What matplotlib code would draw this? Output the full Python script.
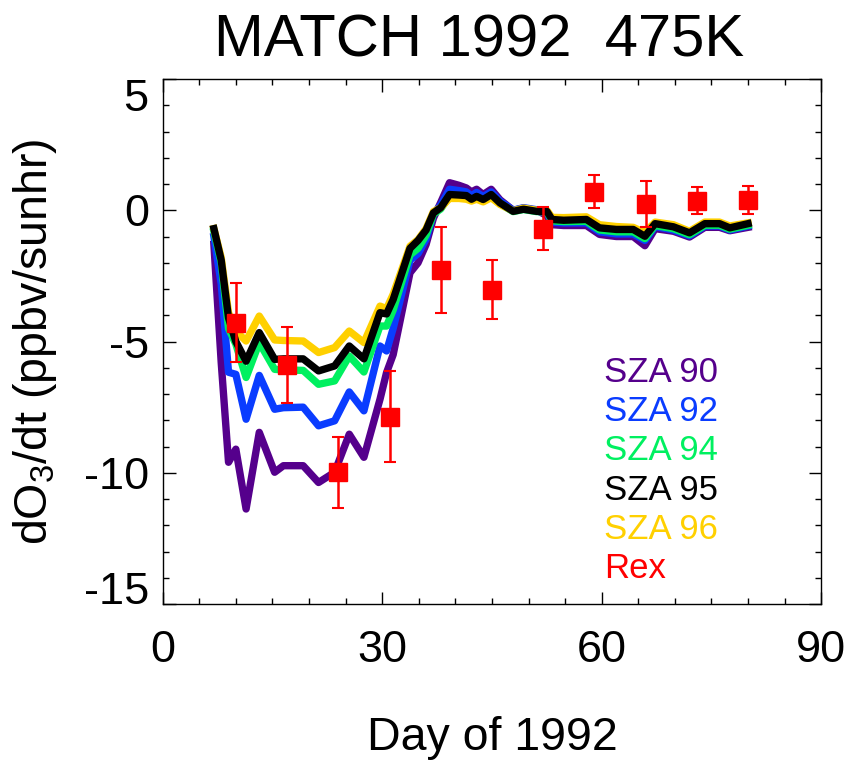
import numpy as np
import matplotlib
matplotlib.use('Agg')
import matplotlib.pyplot as plt

plt.rcParams['font.family'] = ['Liberation Sans', 'DejaVu Sans']
plt.rcParams['mathtext.default'] = 'regular'
plt.rcParams['axes.unicode_minus'] = False

# model days (shared by all SZA curves)
days = [7, 8, 9, 10, 11.4, 13.2, 15.3, 16.5, 19.2, 21.3, 23.5, 25.5, 27.5, 29.7,
        30.6, 31.5, 33.8, 34.9, 36, 37, 38, 39.2, 40.5, 41.5, 42.2, 42.9, 43.8,
        44.9, 46.1, 47.9, 49.3, 51.1, 52.5, 53.2, 54.8, 57.9, 59.7, 62, 64.3,
        65.9, 67.3, 69.8, 72.0, 74.1, 76.1, 77.5, 80]

sza90 = [-1.3, -5.8, -9.6, -9.1, -11.38, -8.46, -9.98, -9.73, -9.73, -10.37,
         -9.98, -8.53, -9.41, -7.2, -6.18, -5.5, -2.38, -2.0, -1.3, -0.3, 0.3,
         1.05, 0.95, 0.85, 0.7, 0.8, 0.6, 0.8, 0.4, 0.0, 0.08, 0.0, -0.2, -0.55,
         -0.58, -0.58, -0.92, -1.0, -1.0, -1.35, -0.7, -0.8, -1.02, -0.65, -0.65,
         -0.78, -0.65]
sza92 = [-1.0, -2.8, -6.17, -6.25, -7.96, -6.29, -7.58, -7.52, -7.5, -8.21,
         -8.02, -6.92, -7.64, -5.17, -5.36, -4.5, -1.9, -1.65, -1.1, -0.15, 0.2,
         0.8, 0.75, 0.7, 0.55, 0.68, 0.52, 0.7, 0.35, 0.0, 0.1, 0.02, -0.08,
         -0.45, -0.48, -0.48, -0.82, -0.9, -0.9, -1.15, -0.62, -0.75, -0.97,
         -0.6, -0.6, -0.75, -0.6]
sza94 = [-0.8, -2.0, -4.5, -5.1, -6.37, -5.04, -6.06, -6.08, -6.1, -6.63,
         -6.5, -5.55, -6.16, -4.41, -4.41, -3.8, -1.7, -1.45, -0.95, -0.15, 0.05,
         0.55, 0.52, 0.5, 0.38, 0.48, 0.36, 0.55, 0.25, -0.05, 0.03, -0.05, -0.06,
         -0.4, -0.43, -0.42, -0.75, -0.82, -0.82, -1.08, -0.58, -0.7, -0.93,
         -0.57, -0.57, -0.72, -0.57]
sza95 = [-0.7, -1.9, -4.1, -5.0, -5.75, -4.66, -5.68, -5.66, -5.66, -6.12,
         -5.93, -5.17, -5.66, -3.9, -3.95, -3.4, -1.45, -1.15, -0.75, -0.1, 0.1,
         0.6, 0.58, 0.56, 0.42, 0.53, 0.41, 0.6, 0.28, -0.04, 0.04, -0.04, -0.04,
         -0.35, -0.38, -0.35, -0.67, -0.73, -0.73, -0.99, -0.51, -0.63, -0.86,
         -0.51, -0.51, -0.67, -0.51]
sza96 = [-0.7, -1.8, -3.9, -4.6, -4.98, -4.03, -4.94, -4.96, -4.98, -5.42,
         -5.23, -4.6, -5.04, -3.65, -3.75, -3.2, -1.37, -1.12, -0.7, -0.05, 0.1,
         0.45, 0.45, 0.42, 0.35, 0.42, 0.32, 0.48, 0.22, -0.02, 0.08, 0.0, 0.0,
         -0.27, -0.28, -0.25, -0.55, -0.62, -0.65, -0.85, -0.45, -0.55, -0.8,
         -0.45, -0.45, -0.6, -0.48]

# Rex observations
rex_day = [10, 17, 24, 31, 38, 45, 52, 59, 66, 73, 80]
rex_val = [-4.28, -5.9, -9.98, -7.86, -2.27, -3.02, -0.71, 0.7, 0.24, 0.36, 0.4]
rex_err = [1.5, 1.44, 1.35, 1.74, 1.65, 1.13, 0.82, 0.63, 0.89, 0.51, 0.53]

labels = ['SZA 90', 'SZA 92', 'SZA 94', 'SZA 95', 'SZA 96', 'Rex']
colors = ['#55008c', '#0a3cff', '#00f060', '#000000', '#ffd000', '#ff0000']

fig = plt.figure(figsize=(8.49, 7.62), dpi=100)
ax = fig.add_axes([0.1916, 0.2073, 0.7757, 0.689])

# draw order: black on top of the others
for vals, c in [(sza90, colors[0]), (sza92, colors[1]), (sza94, colors[2]),
                (sza96, colors[4]), (sza95, colors[3])]:
    ax.plot(days, vals, color=c, lw=5.3, solid_joinstyle='round')

ax.errorbar(rex_day, rex_val, yerr=rex_err, fmt='s', color='#ff0000',
            ms=13.5, elinewidth=1.8, capsize=4.3, capthick=1.5, zorder=5)

ax.set_xlim(0, 90)
ax.set_ylim(-15, 5)
ax.set_xticks([0, 30, 60, 90])
ax.set_xticks(np.arange(0, 91, 5), minor=True)
ax.set_yticks([-15, -10, -5, 0, 5])
ax.set_yticks(np.arange(-15, 6, 1), minor=True)
ax.tick_params(which='both', direction='in', top=True, right=True,
               width=1, labelsize=32.5)
ax.tick_params(which='major', length=9)
ax.tick_params(which='minor', length=4.5)
ax.tick_params(axis='x', pad=19)
ax.tick_params(axis='y', pad=10)
for s in ax.spines.values():
    s.set_linewidth(1)

ylabs = ax.get_yticklabels()
ylabs[0].set_va('baseline')
ylabs[-1].set_va('top')

ax.set_title('MATCH 1992  475K', fontsize=43, pad=16, x=0.48)
ax.set_xlabel('Day of 1992', fontsize=33.5, va='center')
ax.xaxis.set_label_coords(0.5, -0.255)
ax.set_ylabel('dO$_3$/dt (ppbv/sunhr)', fontsize=33.5, va='center')
ax.yaxis.set_label_coords(-0.194, 0.499)

for i, (lab, c) in enumerate(zip(labels, colors)):
    ax.text(0.67, 0.4234 - i * 0.0749, lab, color=c, fontsize=25,
            va='baseline', transform=ax.transAxes)

fig.savefig('out.png', dpi=100)
